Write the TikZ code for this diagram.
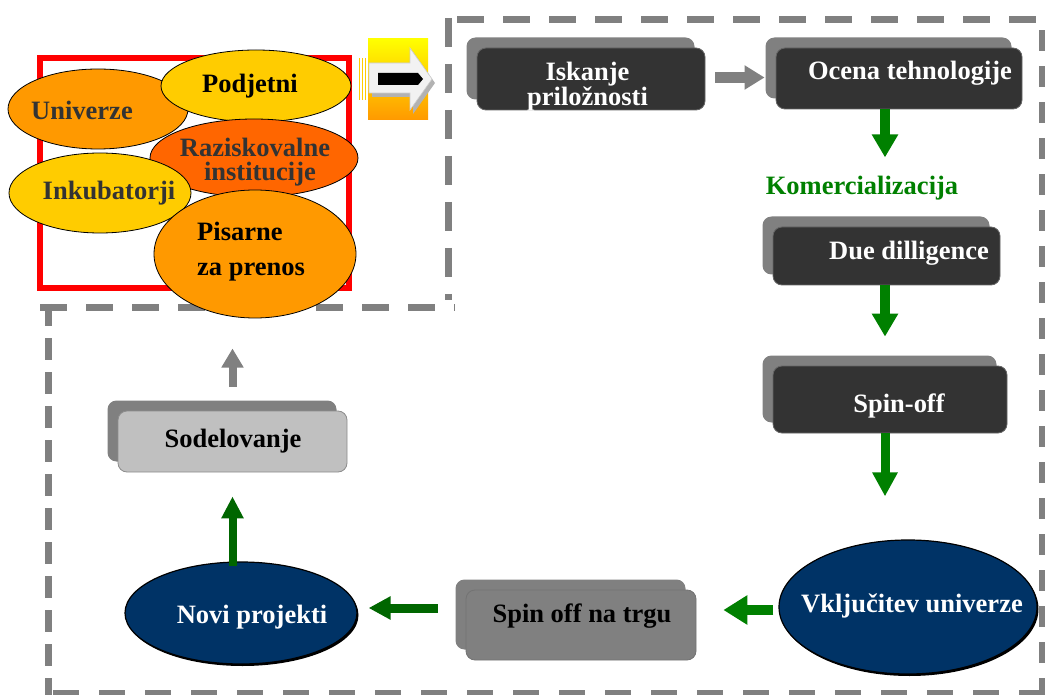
\documentclass[tikz,border=0pt]{standalone}
\usepackage{fontspec}
\setmainfont{Liberation Serif}
\usetikzlibrary{shapes.geometric,arrows.meta,shadows,calc}

\definecolor{framegray}{HTML}{808080}
\definecolor{boxdark}{HTML}{333333}
\definecolor{shadowgray}{HTML}{808080}
\definecolor{lightbox}{HTML}{C0C0C0}
\definecolor{navyfill}{HTML}{003366}
\definecolor{orangeA}{HTML}{FF9900}
\definecolor{yellowA}{HTML}{FFCC00}
\definecolor{orangeB}{HTML}{FF6600}
\definecolor{greenA}{HTML}{008000}
\definecolor{greenB}{HTML}{006600}
\definecolor{txtgray}{HTML}{333333}

\tikzset{
  lbl/.style={font=\fontsize{26.5}{24}\selectfont\bfseries, inner sep=0pt, anchor=base},
  blob/.style={ellipse, draw=black, line width=0.8pt, inner sep=0pt},
  navyblob/.style={ellipse, draw=black, line width=1.2pt, fill=navyfill, inner sep=0pt,
    general shadow={fill=black, shadow xshift=1.5pt, shadow yshift=-2pt}},
  procbox/.style={rectangle, rounded corners=9pt, inner sep=0pt, line width=0.8pt,
    general shadow={fill=shadowgray, rounded corners=4pt, shadow xshift=-10.5pt, shadow yshift=10.5pt}},
  darkbox/.style={procbox, fill=boxdark, draw=black!60},
  framedash/.style={draw=framegray, line width=7pt},
  greenarr/.style={draw=#1, line width=10pt, -{Triangle[width=25pt,length=23pt]}},
  grayarr/.style={draw=framegray, line width=9pt, -{Triangle[width=22pt,length=20pt]}},
}

\begin{document}
\begin{tikzpicture}[x=1pt, y=-1pt]
\useasboundingbox (0,0) rectangle (1045,695);

% dashed frame around the process
\draw[framedash, dash pattern=on 27pt off 19pt] (457,19.5) -- (1045,19.5);
\draw[framedash, dash pattern=on 21pt off 15pt] (1042,30) -- (1042,695);
\draw[framedash, dash pattern=on 26pt off 20pt] (53,693) -- (1045,693);
\draw[framedash, dash pattern=on 22pt off 12pt] (48,304) -- (48,695);
\draw[framedash, dash pattern=on 27pt off 19pt] (40,308) -- (455,308);
\draw[framedash, dash pattern=on 29pt off 17pt] (448,18) -- (448,300);

% actors cluster
\node[draw=red, line width=6pt, minimum width=309pt, minimum height=230pt, inner sep=0pt]
  (cluster) at (194.5,173.5) {};
\node[blob, fill=orangeA, minimum width=180pt, minimum height=80pt] (univ) at (98,109) {};
\node[blob, fill=yellowA, minimum width=190pt, minimum height=72pt] (podj) at (256,86) {};
\node[blob, fill=orangeB, minimum width=208pt, minimum height=78pt] (razi) at (254,158) {};
\node[blob, fill=yellowA, minimum width=182pt, minimum height=80pt] (inku) at (100,193) {};
\node[blob, fill=orangeA, minimum width=202pt, minimum height=128pt] (pis) at (255,254) {};

\node[lbl, text=txtgray] (univ-t) at (82,120) {Univerze};
\node[lbl, text=black] (podj-t) at (250,93) {Podjetni};
\node[lbl, text=txtgray] (razi-t1) at (255,157) {Raziskovalne};
\node[lbl, text=txtgray] (razi-t2) at (260,181) {institucije};
\node[lbl, text=txtgray] (inku-t) at (109,200) {Inkubatorji};
\node[lbl, text=black, anchor=base west] (pis-t1) at (197,241) {Pisarne};
\node[lbl, text=black, anchor=base west] (pis-t2) at (197,276) {za prenos};

% entry arrow symbol
\shade[top color=yellow, bottom color=orangeA] (368,39) rectangle (428,120);
\foreach \bx in {359.5,362.5,365.5}
  \draw[yellowA, line width=1.3pt] (\bx,58) -- (\bx,100);
\fill[black!30] (372,67) -- (413,67) -- (413,52) -- (435,83) -- (413,114) -- (413,97) -- (372,97) -- cycle;
\filldraw[fill=white!95!black, draw=black!20, line width=0.6pt]
  (369,63) -- (410,63) -- (410,48) -- (432,79) -- (410,110) -- (410,93) -- (369,93) -- cycle;
\fill[black] (378,73) -- (418,73) -- (423,79) -- (418,85) -- (378,85) -- cycle;

% process boxes
\node[darkbox, minimum width=228pt, minimum height=62pt] (isk) at (591,79) {};
\node[darkbox, minimum width=246pt, minimum height=61pt] (oc) at (899,78.5) {};
\node[darkbox, minimum width=227pt, minimum height=58pt] (due) at (886.5,256) {};
\node[darkbox, minimum width=234pt, minimum height=67pt] (spin) at (890,399.5) {};
\node[procbox, fill=shadowgray, draw=black!55, minimum width=230pt, minimum height=70pt] (trgu) at (581,625) {};
\node[procbox, fill=lightbox, draw=black!45, minimum width=229pt, minimum height=61pt] (sod) at (232.5,441.5) {};
\node[navyblob, minimum width=258pt, minimum height=134pt] (vk) at (908,607) {};
\node[navyblob, minimum width=232pt, minimum height=102pt] (novi) at (241,613) {};

\node[lbl, text=white, align=center, anchor=north, font=\fontsize{26.5}{23}\selectfont\bfseries]
  (isk-t) at (587.5,62) {Iskanje\\priložnosti};
\node[lbl, text=white] (oc-t) at (910,80) {Ocena tehnologije};
\node[lbl, text=greenA] (kom) at (862,195) {Komercializacija};
\node[lbl, text=white] (due-t) at (909,260) {Due dilligence};
\node[lbl, text=white] (spin-t) at (899,412) {Spin-off};
\node[lbl, text=white] (vk-t) at (912,612) {Vključitev univerze};
\node[lbl, text=black] (trgu-t) at (582,622) {Spin off na trgu};
\node[lbl, text=white] (novi-t) at (252,623) {Novi projekti};
\node[lbl, text=black] (sod-t) at (233,447) {Sodelovanje};

% connectors
\draw[grayarr, line width=11pt, -{Triangle[width=23pt,length=20pt]}, shorten <=10pt, shorten >=11pt]
  ([yshift=1.5pt]isk.east) -- ([yshift=1pt]oc.west);
\draw[greenarr=greenA, shorten >=19pt]
  ([xshift=-14pt]oc.south) -- ([xshift=-14pt]oc.south |- kom.north);
\draw[greenarr=greenA, shorten >=29pt]
  ([xshift=-1.5pt]due.south) -- ([xshift=-1.5pt]due.south |- spin.north);
\draw[greenarr=greenA, line width=9pt, -{Triangle[width=24pt,length=24pt]}, shorten >=43pt]
  ([xshift=-5pt]spin.south) -- ([xshift=-5pt]spin.south |- vk.north);
\draw[greenarr=greenA, -{Triangle[width=28pt,length=24pt]}, shorten <=5pt, shorten >=27pt]
  ([yshift=-3pt]vk.west) -- ([yshift=-3pt]vk.west -| trgu.east);
\draw[greenarr=greenB, line width=9pt, -{Triangle[width=22pt,length=22pt]}, shorten <=28pt, shorten >=11pt]
  ([yshift=5pt]novi.east -| trgu.west) -- ([yshift=5pt]novi.east);
\draw[greenarr=greenB, line width=8pt, -{Triangle[width=21pt,length=22pt]}, shorten <=-5pt, shorten >=24pt]
  (sod.south |- novi.north) -- (sod.south);
\draw[grayarr, line width=8pt, -{Triangle[width=21pt,length=19pt]}, shorten <=24pt, shorten >=57pt]
  (sod.north) -- (sod.north |- cluster.south);
\end{tikzpicture}
\end{document}
